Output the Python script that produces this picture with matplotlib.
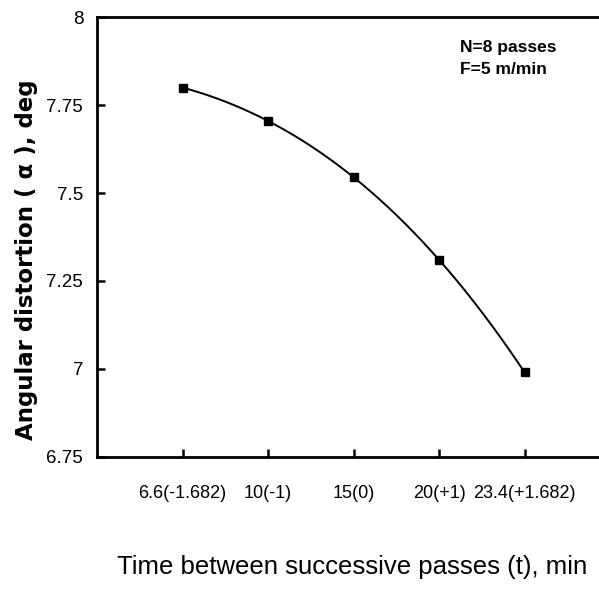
import matplotlib
matplotlib.use("Agg")

import numpy as np
import matplotlib.pyplot as plt
from matplotlib import font_manager

# Data
tick_labels = ['6.6(-1.682)', '10(-1)', '15(0)', '20(+1)', '23.4(+1.682)']
distortion = [7.80, 7.705, 7.545, 7.31, 6.99]
y_ticks = [6.75, 7, 7.25, 7.5, 7.75, 8]
y_tick_labels = ['6.75', '7', '7.25', '7.5', '7.75', '8']

names = {f.name for f in font_manager.fontManager.ttflist}
narrow = 'Liberation Sans Narrow' if 'Liberation Sans Narrow' in names else 'Liberation Sans'

pos = np.arange(len(tick_labels))

fig = plt.figure(figsize=(5.99, 5.94), dpi=100)
ax = fig.add_axes([0.162, 0.231, 0.838, 0.740])

# smooth line through the points
coef = np.polyfit(pos, distortion, 3)
xs = np.linspace(pos[0], pos[-1], 200)
ax.plot(xs, np.polyval(coef, xs), color='black', linewidth=1.4)
ax.plot(pos, distortion, 's', color='black', markersize=5.5)

ax.set_xlim(-1.0, 4.87)
ax.set_ylim(6.75, 8)
ax.set_xticks(pos)
ax.set_xticklabels(tick_labels, family=narrow, fontsize=13)
ax.set_yticks(y_ticks)
ax.set_yticklabels(y_tick_labels, family=narrow, fontsize=13.5)
ax.tick_params(direction='in', length=6, width=1.8)
ax.tick_params(axis='x', pad=20)
ax.tick_params(axis='y', pad=10)

ax.spines['right'].set_visible(False)
for s in ['left', 'top', 'bottom']:
    ax.spines[s].set_linewidth(2)

ax.set_ylabel('Angular distortion ( α ), deg', family='DejaVu Sans',
              fontweight='bold', fontsize=16.5)
ax.yaxis.set_label_coords(-0.118, 0.448)
fig.text(0.588, 0.045, 'Time between successive passes (t), min',
         family='Liberation Sans', fontsize=18.5, ha='center', va='center')

ax.text(0.724, 0.948, 'N=8 passes\nF=5 m/min', transform=ax.transAxes,
        family=narrow, fontweight='bold', fontsize=12.5, va='top',
        linespacing=1.55)

fig.savefig('out.png', dpi=100)
